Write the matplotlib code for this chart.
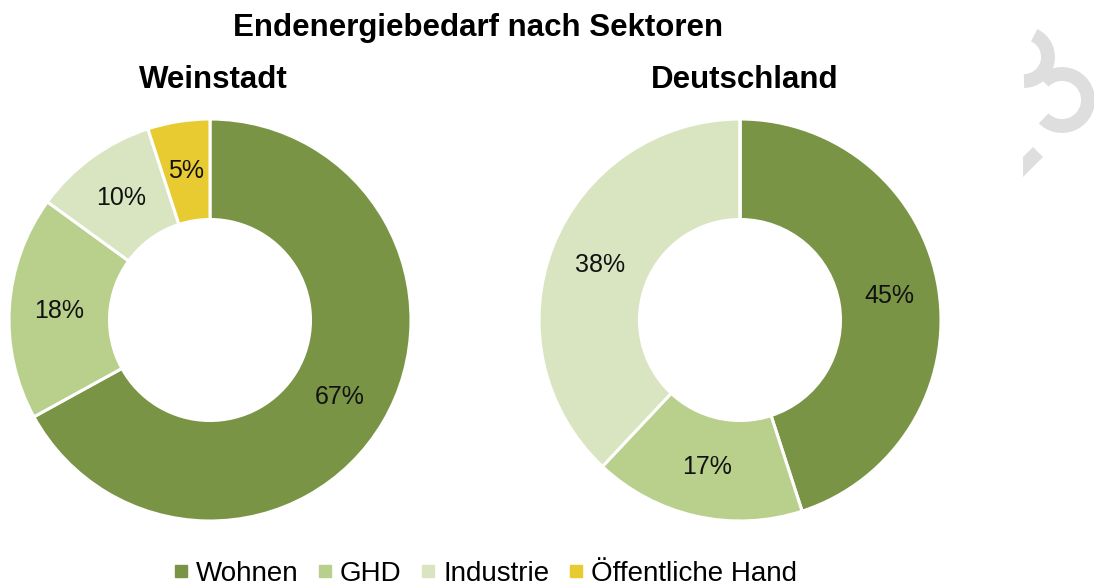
import numpy as np
import matplotlib.pyplot as plt
from matplotlib.patches import Arc, Polygon
from matplotlib.lines import Line2D

plt.rcParams['font.family'] = ['Liberation Sans', 'DejaVu Sans']

# data
sectors = ['Wohnen', 'GHD', 'Industrie', 'Öffentliche Hand']
colors = ['#7A9445', '#B9D08C', '#D9E5C1', '#E8CA31']
weinstadt = [67, 18, 10, 5]
deutschland = [45, 17, 38, 0]
titles = ['Weinstadt', 'Deutschland']

W, H = 1094, 585
fig = plt.figure(figsize=(W / 100, H / 100), dpi=100)

def pie_axes(cx, cy, r):
    return fig.add_axes([(cx - r) / W, (H - cy - r) / H, 2 * r / W, 2 * r / H])

def draw_donut(ax, vals):
    wedges, texts = ax.pie(vals, colors=colors, startangle=90, counterclock=False,
                           radius=1.0, wedgeprops=dict(width=0.5, edgecolor='white', linewidth=2.2))
    total = sum(vals)
    for w, val in zip(wedges, vals):
        if val == 0:
            continue
        ang = np.deg2rad((w.theta1 + w.theta2) / 2)
        ax.text(0.75 * np.cos(ang), 0.75 * np.sin(ang), f'{round(100 * val / total)}%',
                ha='center', va='center', fontsize=18, color='#111111')
    ax.set_xlim(-1, 1)
    ax.set_ylim(-1, 1)
    ax.set_aspect('equal')
    ax.axis('off')
    return wedges

ax1 = pie_axes(210, 320, 201)
draw_donut(ax1, weinstadt)
ax2 = pie_axes(740, 320, 201)
draw_donut(ax2, deutschland)

fig.text(478 / W, 1 - 28 / H, 'Endenergiebedarf nach Sektoren', ha='center', va='center',
         fontsize=22.5, fontweight='bold')
fig.text(213 / W, 1 - 80 / H, titles[0], ha='center', va='center', fontsize=22.5, fontweight='bold')
fig.text(745 / W, 1 - 80 / H, titles[1], ha='center', va='center', fontsize=22.5, fontweight='bold')

handles = [Line2D([], [], marker='s', linestyle='none', markersize=8, color=c) for c in colors]
fig.legend(handles, sectors, loc='center', bbox_to_anchor=(484 / W, 1 - 574 / H), ncol=4,
           frameon=False, fontsize=20, handletextpad=0.2, columnspacing=0.6, handlelength=0.7)

# decorative logo fragment at right edge
lg = fig.add_axes([0, 0, 1, 1], zorder=-1)
lg.set_xlim(0, W)
lg.set_ylim(H, 0)
lg.axis('off')
gray = '#DEDEDE'
lg.add_patch(Arc((1024, 57), 48, 48, theta1=-65, theta2=90, color=gray, lw=10))
lg.add_patch(Arc((1062, 100), 52, 52, theta1=-135, theta2=135, color=gray, lw=10))
lg.add_patch(Polygon([(1023, 157), (1033, 147), (1043, 157), (1023, 177)], closed=True, color=gray, lw=0))

fig.savefig('out.png', dpi=100)
